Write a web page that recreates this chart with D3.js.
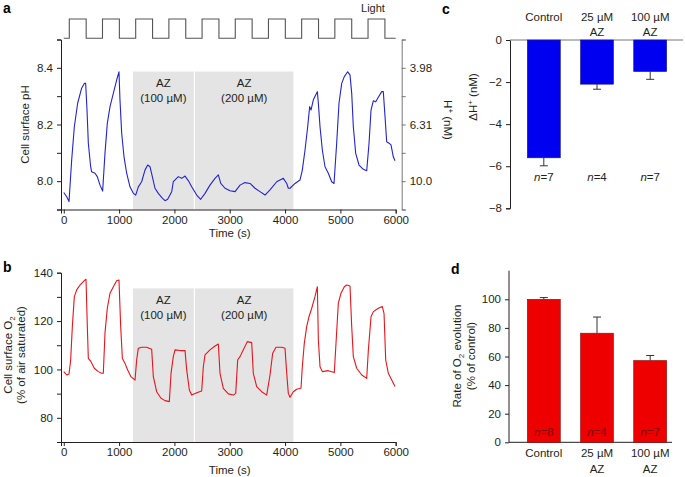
<!DOCTYPE html>
<html><head><meta charset="utf-8">
<script src="https://cdn.jsdelivr.net/npm/d3@7"></script>
<style>
html,body{margin:0;padding:0;background:#fff;}
svg{display:block;font-family:"Liberation Sans",Arial,Helvetica,sans-serif;}
</style></head>
<body>
<svg id="chart" width="685" height="477"></svg>
<script>
// ---------------- DATA ----------------
// Panel a: cell surface pH trace (time s, pH)
const phTime = [0,53,95,143,191,251,323,371,396,420,444,486,504,564,606,655,703,745,787,836,896,956,998,1016,1047,1089,1137,1197,1257,1300,1348,1408,1468,1517,1559,1601,1649,1709,1781,1830,1878,1951,1980,2071,2132,2192,2251,2312,2403,2475,2553,2643,2734,2794,2838,2915,3005,3096,3186,3276,3367,3457,3547,3638,3728,3849,3969,4030,4059,4090,4180,4270,4312,4361,4409,4445,4469,4511,4554,4584,4602,4632,4674,4722,4782,4843,4885,4933,4975,5024,5071,5132,5174,5205,5234,5277,5337,5415,5476,5518,5554,5596,5639,5686,5747,5776,5807,5837,5879,5915,5957,5987];
const phValue = [7.96,7.945,7.928,8.075,8.192,8.275,8.328,8.345,8.345,8.251,8.134,8.051,8.033,8.028,8.016,7.986,7.965,8.098,8.204,8.263,8.31,8.357,8.386,8.287,8.169,8.086,8.028,7.98,7.957,7.951,7.98,7.998,8.039,8.057,8.051,8.016,7.975,7.957,7.94,7.931,7.936,7.963,7.998,8.016,8.01,8.018,8.002,7.98,7.951,7.936,7.957,7.986,8.01,8.022,7.992,7.975,7.966,7.963,7.986,7.995,7.992,7.975,7.963,7.951,7.969,7.998,8.01,7.992,7.975,7.975,7.992,8.004,8.039,8.11,8.192,8.263,8.251,8.287,8.304,8.316,8.275,8.192,8.11,8.051,8.028,7.998,7.992,8.134,8.275,8.345,8.369,8.386,8.375,8.31,8.192,8.098,8.057,8.042,8.037,8.134,8.251,8.284,8.28,8.296,8.316,8.316,8.228,8.139,8.134,8.128,8.086,8.072];

// Panel b: cell surface O2 trace (time s, % air saturated)
const o2Time = [0,53,95,125,155,191,234,293,371,402,426,444,492,552,624,685,715,745,787,836,896,956,998,1029,1059,1107,1155,1215,1288,1318,1348,1408,1499,1589,1619,1679,1758,1830,1908,1939,1980,2011,2101,2192,2222,2270,2312,2403,2493,2523,2553,2643,2734,2794,2824,2884,2975,3065,3108,3144,3186,3246,3318,3397,3426,3487,3578,3668,3728,3776,3837,3939,3999,4030,4059,4090,4150,4210,4288,4312,4348,4391,4433,4482,4541,4584,4602,4632,4674,4782,4890,4921,4963,5011,5071,5115,5174,5205,5234,5295,5386,5476,5506,5554,5596,5686,5758,5789,5819,5867,5928,5987];
const o2Value = [99.1,97.7,98.1,104,117.7,130.1,132.9,134.9,136.7,137.3,117.7,104.6,103.2,100.5,99.1,98.4,98.4,115,125.3,131.5,134.2,136.7,137,117.7,104.6,102.5,99.8,97,95.6,104,108.8,109.2,109.2,108.3,97,90.8,88.1,87.1,86.7,98.4,105.3,108.1,107.8,107.8,99.8,91.5,89.4,90.4,91.1,101.1,106,108.1,109.7,110.5,98.4,92.2,89.9,89.4,90.1,104,105.3,108.1,111.5,111.1,98.4,92.9,90.8,89.4,97.7,106.7,109.2,109.2,108.8,98.4,90.1,88.5,90.8,91.8,92.2,101.1,110.8,117.7,121.8,125.3,130.1,134.2,112.2,101.1,99.1,99.5,98.7,110.8,127.4,131.5,134.2,134.9,134.5,117.7,105.3,100.5,97.7,96.3,108.1,121.8,123.9,125.3,126,123.2,104,98.4,95.6,92.9];

// Light on periods (s)
const lightOnStart = [100,700,1300,1900,2500,3100,3700,4300,4900,5500];
const lightOnEnd   = [405,1005,1605,2205,2805,3405,4005,4605,5205,5805];
const traceStart = 0, traceEnd = 6000;

// AZ treatment periods
const azStart = [1250, 2372];
const azEnd   = [2350, 4150];
const azLabel1 = ["AZ", "AZ"];
const azLabel2 = ["(100 \u00b5M)", "(200 \u00b5M)"];

// Axis ticks
const timeTicks = [0,1000,2000,3000,4000,5000,6000];
const phTicks = [7.9,8.0,8.1,8.2,8.3,8.4,8.5];
const phLabelled = [8.0,8.2,8.4];
const hLabels = {"8.4":"3.98","8.2":"6.31","8":"10.0"};
const o2Ticks = [70,80,90,100,110,120,130,140];
const o2Labelled = [80,100,120,140];

// Panels c & d
const categories = ["Control","25 \u00b5M AZ","100 \u00b5M AZ"];
const catLine1 = ["Control","25 \u00b5M","100 \u00b5M"];
const catLine2 = ["","AZ","AZ"];
const dH = [-5.6,-2.1,-1.5];
const dHErr = [0.38,0.24,0.37];
const dHn = [7,4,7];
const o2Rate = [100,76.3,57.2];
const o2RateErr = [1.2,11.3,3.5];
const o2RateN = [8,4,7];
const cTicks = [0,-2,-4,-6,-8];
const dTicks = [0,20,40,60,80,100];

// ---------------- DRAW ----------------
const svg = d3.select("#chart");
const AX = "#231f20";
const FS = 11.5;
const SUB = 8;

const x = d3.scaleLinear().domain([-50, 6000]).range([61, 395.7]);
const yA = d3.scaleLinear().domain([7.9, 8.5]).range([209.5, 39.5]);
const yB = d3.scaleLinear().domain([70, 140]).range([442, 272.7]);
const yL = d3.scaleLinear().domain([0, 1]).range([38.3, 19]);

function styleAxis(g, col) {
  g.selectAll("path.domain").attr("stroke", col || AX).attr("stroke-width", 1);
  g.selectAll(".tick line").attr("stroke", col || AX).attr("stroke-width", 1);
  g.selectAll(".tick text").attr("fill", "#231f20").attr("font-size", FS).attr("font-family", "Liberation Sans, Arial, sans-serif");
}

// panel labels
[["a",3,13],["b",3,272],["c",442,14],["d",451,274]].forEach(([t,px,py]) => {
  svg.append("text").attr("x", px).attr("y", py).attr("font-size", 14).attr("font-weight", "bold").attr("fill", "#000").text(t);
});

// ---- Light trace ----
const lightPts = [[traceStart, 0]];
lightOnStart.forEach((s, i) => { lightPts.push([s,0],[s,1],[lightOnEnd[i],1],[lightOnEnd[i],0]); });
lightPts.push([traceEnd, 0]);
svg.append("path").attr("d", d3.line().x(d => x(d[0])).y(d => yL(d[1]))(lightPts))
  .attr("fill", "none").attr("stroke", "#555").attr("stroke-width", 1.1);
svg.append("text").attr("x", 373).attr("y", 12).attr("text-anchor", "middle").attr("font-size", 11).attr("fill", "#231f20").text("Light");

// ---- AZ shading ----
function shade(yScale, topVal, labY1, labY2) {
  azStart.forEach((s, i) => {
    svg.append("rect").attr("x", x(s)).attr("width", x(azEnd[i]) - x(s))
      .attr("y", yScale(topVal)).attr("height", yScale.range()[0] - yScale(topVal))
      .attr("fill", "#e4e4e4");
    const cx = (x(s) + x(azEnd[i])) / 2;
    svg.append("text").attr("x", cx).attr("y", labY1).attr("text-anchor", "middle").attr("font-size", FS).attr("fill", "#231f20").text(azLabel1[i]);
    svg.append("text").attr("x", cx).attr("y", labY2).attr("text-anchor", "middle").attr("font-size", FS).attr("fill", "#231f20").text(azLabel2[i]);
  });
}
shade(yA, 8.387, 87, 102);
shade(yB, 133.5, 304, 319);

// ---- Panel a axes ----
const gAl = svg.append("g").attr("transform", `translate(${x(-50)},0)`)
  .call(d3.axisLeft(yA).tickValues(phTicks).tickSize(4).tickPadding(4)
    .tickFormat(d => phLabelled.some(v => Math.abs(v - d) < 1e-6) ? d3.format(".1f")(d) : ""));
styleAxis(gAl);
const gAr = svg.append("g").attr("transform", `translate(401.7,0)`)
  .call(d3.axisRight(yA).tickValues(phTicks).tickSize(4).tickPadding(4)
    .tickFormat(d => hLabels[String(+d.toFixed(1))] || ""));
styleAxis(gAr, "#777");
const gAx = svg.append("g").attr("transform", `translate(0,${yA.range()[0]})`)
  .call(d3.axisBottom(x).tickValues(timeTicks).tickSize(4).tickPadding(2).tickFormat(d3.format("d")));
styleAxis(gAx);
svg.append("text").attr("x", x(3000)).attr("y", 237).attr("text-anchor", "middle").attr("font-size", FS).attr("fill", "#231f20").text("Time (s)");
svg.append("text").attr("transform", `translate(29,${(39.5+209.5)/2}) rotate(-90)`).attr("text-anchor", "middle").attr("font-size", FS).attr("fill", "#231f20").text("Cell surface pH");
const hl = svg.append("text").attr("transform", `translate(444,120) rotate(90)`).attr("text-anchor", "middle").attr("font-size", FS).attr("fill", "#231f20");
hl.append("tspan").text("H");
hl.append("tspan").attr("font-size", SUB).attr("dy", -4).text("+");
hl.append("tspan").attr("dy", 4).text(" (nM)");

// pH trace
const phData = phTime.map((t, i) => [t, phValue[i]]);
svg.append("path").attr("d", d3.line().x(d => x(d[0])).y(d => yA(d[1]))(phData))
  .attr("fill", "none").attr("stroke", "#2323d0").attr("stroke-width", 1.1).attr("stroke-linejoin", "round");

// ---- Panel b axes ----
const gBl = svg.append("g").attr("transform", `translate(${x(-50)},0)`)
  .call(d3.axisLeft(yB).tickValues(o2Ticks).tickSize(4).tickPadding(4)
    .tickFormat(d => o2Labelled.includes(d) ? d : ""));
styleAxis(gBl);
const gBx = svg.append("g").attr("transform", `translate(0,${yB.range()[0]})`)
  .call(d3.axisBottom(x).tickValues(timeTicks).tickSize(4).tickPadding(2).tickFormat(d3.format("d")));
styleAxis(gBx);
svg.append("text").attr("x", x(3000)).attr("y", 474).attr("text-anchor", "middle").attr("font-size", FS).attr("fill", "#231f20").text("Time (s)");
const bl1 = svg.append("text").attr("transform", `translate(12,355) rotate(-90)`).attr("text-anchor", "middle").attr("font-size", FS).attr("fill", "#231f20");
bl1.append("tspan").text("Cell surface O");
bl1.append("tspan").attr("font-size", SUB).attr("dy", 3).text("2");
svg.append("text").attr("transform", `translate(25,355) rotate(-90)`).attr("text-anchor", "middle").attr("font-size", FS).attr("fill", "#231f20").text("(% of air saturated)");

const o2Data = o2Time.map((t, i) => [t, o2Value[i]]);
svg.append("path").attr("d", d3.line().x(d => x(d[0])).y(d => yB(d[1]))(o2Data))
  .attr("fill", "none").attr("stroke", "#e8141b").attr("stroke-width", 1.1).attr("stroke-linejoin", "round");

// ---- Panel c ----
const xC = d3.scaleBand().domain(categories).range([517.2, 676.8]).paddingInner(0.38).paddingOuter(0.19);
const yC = d3.scaleLinear().domain([-8, 0]).range([208.3, 40]);
const gC = svg.append("g").attr("transform", `translate(510,0)`)
  .call(d3.axisLeft(yC).tickValues(cTicks).tickSize(4).tickPadding(4));
styleAxis(gC);
svg.append("line").attr("x1", 510).attr("x2", 683).attr("y1", yC(0)).attr("y2", yC(0)).attr("stroke", "#777").attr("stroke-width", 1);
categories.forEach((c, i) => {
  const bx = xC(c), bw = xC.bandwidth(), cx = bx + bw / 2;
  svg.append("line").attr("x1", cx).attr("x2", cx).attr("y1", yC(dH[i])).attr("y2", yC(dH[i] - dHErr[i])).attr("stroke", "#333");
  svg.append("line").attr("x1", cx - 4).attr("x2", cx + 4).attr("y1", yC(dH[i] - dHErr[i])).attr("y2", yC(dH[i] - dHErr[i])).attr("stroke", "#333");
  svg.append("rect").attr("x", bx).attr("width", bw).attr("y", yC(0)).attr("height", yC(dH[i]) - yC(0))
    .attr("fill", "#0000f0").attr("stroke", "#1a1a80").attr("stroke-width", 0.6);
  svg.append("text").attr("x", cx).attr("y", 21).attr("text-anchor", "middle").attr("font-size", FS).attr("fill", "#231f20").text(catLine1[i]);
  if (catLine2[i]) svg.append("text").attr("x", cx).attr("y", 36).attr("text-anchor", "middle").attr("font-size", FS).attr("fill", "#231f20").text(catLine2[i]);
  const nt = svg.append("text").attr("x", cx).attr("y", 181).attr("text-anchor", "middle").attr("font-size", FS).attr("fill", "#231f20");
  nt.append("tspan").attr("font-style", "italic").text("n");
  nt.append("tspan").text("=" + dHn[i]);
});
const cl = svg.append("text").attr("transform", `translate(477,97) rotate(-90)`).attr("text-anchor", "middle").attr("font-size", FS).attr("fill", "#231f20");
cl.append("tspan").text("\u0394H");
cl.append("tspan").attr("font-size", SUB).attr("dy", -4).text("+");
cl.append("tspan").attr("dy", 4).text(" (nM)");

// ---- Panel d ----
const yD = d3.scaleLinear().domain([0, 120]).range([442.3, 270.7]);
const gD = svg.append("g").attr("transform", `translate(509,0)`)
  .call(d3.axisLeft(yD).tickValues(dTicks).tickSize(4).tickPadding(4));
styleAxis(gD);
gD.select("path.domain").attr("d", `M-0,${yD(120)}V${yD(0)}`);
svg.append("line").attr("x1", 509).attr("x2", 672).attr("y1", yD(0)).attr("y2", yD(0)).attr("stroke", AX).attr("stroke-width", 1);
categories.forEach((c, i) => {
  const bx = xC(c), bw = xC.bandwidth(), cx = bx + bw / 2;
  svg.append("line").attr("x1", cx).attr("x2", cx).attr("y1", yD(o2Rate[i])).attr("y2", yD(o2Rate[i] + o2RateErr[i])).attr("stroke", "#333");
  svg.append("line").attr("x1", cx - 4).attr("x2", cx + 4).attr("y1", yD(o2Rate[i] + o2RateErr[i])).attr("y2", yD(o2Rate[i] + o2RateErr[i])).attr("stroke", "#333");
  svg.append("rect").attr("x", bx).attr("width", bw).attr("y", yD(o2Rate[i])).attr("height", yD(0) - yD(o2Rate[i]))
    .attr("fill", "#ee0000").attr("stroke", "#8a1010").attr("stroke-width", 0.6);
  svg.append("text").attr("x", cx).attr("y", 457).attr("text-anchor", "middle").attr("font-size", FS).attr("fill", "#231f20").text(catLine1[i]);
  if (catLine2[i]) svg.append("text").attr("x", cx).attr("y", 473).attr("text-anchor", "middle").attr("font-size", FS).attr("fill", "#231f20").text(catLine2[i]);
  const nt = svg.append("text").attr("x", cx).attr("y", 436).attr("text-anchor", "middle").attr("font-size", FS).attr("fill", "#7a0000");
  nt.append("tspan").attr("font-style", "italic").text("n");
  nt.append("tspan").text("=" + o2RateN[i]);
});
const dl1 = svg.append("text").attr("transform", `translate(461,356) rotate(-90)`).attr("text-anchor", "middle").attr("font-size", FS).attr("fill", "#231f20");
dl1.append("tspan").text("Rate of O");
dl1.append("tspan").attr("font-size", SUB).attr("dy", 3).text("2");
dl1.append("tspan").attr("dy", -3).text(" evolution");
svg.append("text").attr("transform", `translate(475,356) rotate(-90)`).attr("text-anchor", "middle").attr("font-size", FS).attr("fill", "#231f20").text("(% of control)");
</script>
</body></html>
